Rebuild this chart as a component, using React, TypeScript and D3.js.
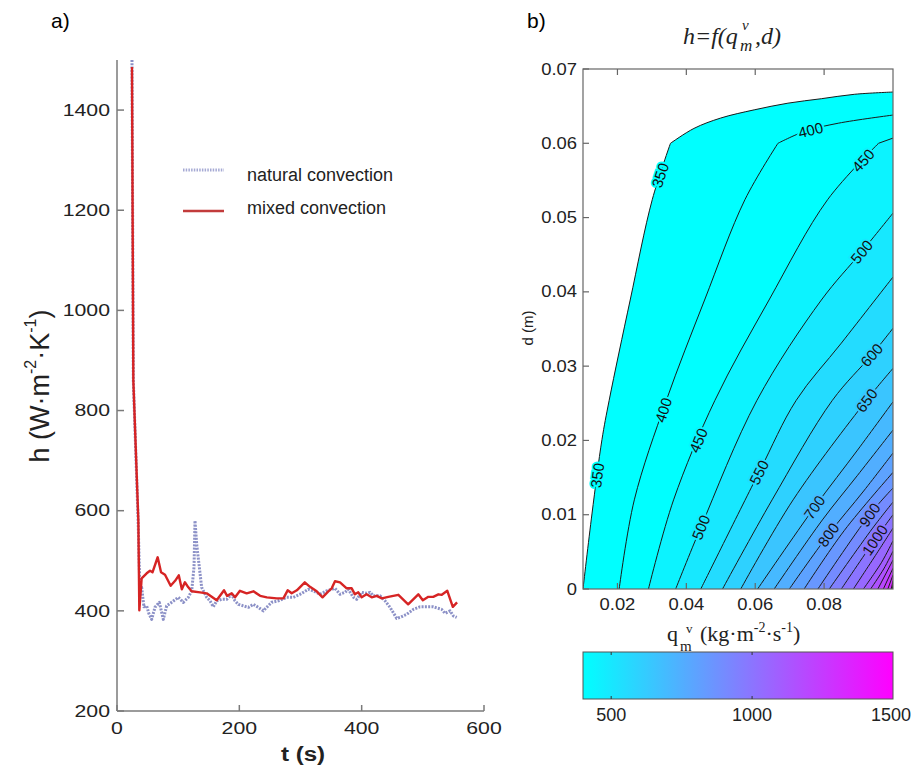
import React from "react";
import * as d3 from "d3";

// ---------- panel a) data ----------
const timeMixed = [24.5, 26.7, 34.9, 36.5, 40.3, 48.5, 54, 58, 66.5, 72, 78.5, 87.7, 95, 101, 106, 111, 116.6, 122, 135.7, 146.6, 163, 175, 180, 187.5, 193, 201, 212, 223, 234, 245, 261, 272, 279, 285.6, 294, 307, 315.5, 326.5, 336, 345.5, 351, 356.4, 364.6, 375.5, 383.7, 389, 394.5, 400, 408, 416.4, 424.6, 433, 443.6, 460, 476, 492.6, 500, 509, 517, 525.4, 531, 540, 549, 556];
const hMixed = [1486, 860, 580, 401, 465, 475, 480, 477, 507, 477, 472, 450, 460, 471, 443, 457, 447, 439, 437, 435, 421, 441, 430, 435, 427, 440, 435, 439, 430, 427, 425, 425, 441, 435, 441, 457, 448, 439, 427, 439, 445, 459, 457, 445, 445, 433, 437, 427, 433, 427, 430, 425, 428, 432, 413, 433, 421, 428, 428, 433, 432, 440, 408, 417];
const timeNatural = [24.5, 26.7, 34.5, 37.5, 40.3, 44, 48.5, 52, 56.7, 62.1, 69.2, 75.7, 81.2, 89.4, 100.3, 108.4, 116.6, 122.1, 125.9, 127.5, 130.3, 134.6, 138.4, 146.6, 152, 157.5, 163, 171.1, 179.3, 187.5, 192.9, 198.4, 206.5, 214.7, 222.9, 231.1, 239.2, 244.7, 252.9, 263.8, 277.4, 288.3, 299.2, 312.8, 321, 331.9, 342.8, 351, 356.4, 364.6, 372.8, 378.2, 386.4, 391.9, 400, 408.2, 413.7, 419.1, 430, 438.2, 446.4, 457.3, 462.7, 473.6, 484.5, 495.4, 506.3, 517.2, 530.8, 536.3, 544.5, 549.9, 555.4];
const hNatural = [1500, 860, 580, 440, 447, 408, 410, 395, 383, 407, 417, 383, 410, 417, 427, 417, 427, 440, 487, 580, 533, 487, 447, 427, 420, 408, 420, 423, 423, 433, 420, 413, 410, 407, 413, 407, 400, 407, 417, 420, 427, 427, 433, 443, 440, 433, 440, 443, 445, 433, 437, 443, 427, 423, 437, 435, 437, 430, 430, 420, 407, 385, 387, 393, 403, 408, 408, 408, 403, 395, 400, 390, 387];
const leftXTicks = [0, 200, 400, 600];
const leftYTicks = [200, 400, 600, 800, 1000, 1200, 1400];
const legendLabels = ["natural convection", "mixed convection"];

// ---------- panel b) data ----------
const contourLevels = [350, 400, 450, 500, 550, 600, 650, 700, 750, 800, 850, 900, 950, 1000, 1050, 1100, 1150, 1200, 1250, 1300, 1350, 1400];
const contourQ = [
  [0.0100, 0.0126, 0.0155, 0.0176, 0.0237, 0.0301, 0.0354, 0.0422, 0.0500, 0.0597, 0.0695, 0.0792, 0.0889, 0.1000],
  [0.0205, 0.0249, 0.0342, 0.0453, 0.0570, 0.0666, 0.0743, 0.0841, 0.1000],
  [0.0290, 0.0363, 0.0483, 0.0640, 0.0810, 0.0958, 0.1000],
  [0.0369, 0.0442, 0.0605, 0.0792, 0.0909, 0.1000],
  [0.0442, 0.0611, 0.0719, 0.0850, 0.1000],
  [0.0505, 0.0649, 0.0824, 0.0938, 0.1000],
  [0.0558, 0.0710, 0.0923, 0.1000],
  [0.0607, 0.0772, 0.0897, 0.1000],
  [0.0655, 0.0795, 0.0897, 0.1000],
  [0.0699, 0.0812, 0.0915, 0.1000],
  [0.0742, 0.0859, 0.1000],
  [0.0782, 0.0932, 0.1000],
  [0.0815, 0.0941, 0.1000],
  [0.0850, 0.0947, 0.1000],
  [0.0885, 0.0953, 0.1000],
  [0.0914, 0.0967, 0.1000],
  [0.0935, 0.0973, 0.1000],
  [0.0956, 0.1000],
  [0.0972, 0.1000],
  [0.0985, 0.1000],
  [0.0995, 0.1000],
  [0.0998, 0.1000],
];
const contourD = [
  [0, 0.0101, 0.0201, 0.0254, 0.0389, 0.0524, 0.0600, 0.0620, 0.0634, 0.0645, 0.0654, 0.0660, 0.0666, 0.0669],
  [0, 0.0120, 0.0254, 0.0389, 0.0524, 0.0600, 0.0616, 0.0627, 0.0638],
  [0, 0.0120, 0.0254, 0.0389, 0.0524, 0.0600, 0.0607],
  [0, 0.0083, 0.0254, 0.0389, 0.0454, 0.0506],
  [0, 0.0157, 0.0254, 0.0331, 0.0420],
  [0, 0.0120, 0.0254, 0.0315, 0.0351],
  [0, 0.0120, 0.0254, 0.0297],
  [0, 0.0110, 0.0187, 0.0252],
  [0, 0.0093, 0.0153, 0.0214],
  [0, 0.0073, 0.0132, 0.0183],
  [0, 0.0079, 0.0157],
  [0, 0.0100, 0.0136],
  [0, 0.0082, 0.0117],
  [0, 0.0066, 0.0100],
  [0, 0.0048, 0.0082],
  [0, 0.0036, 0.0065],
  [0, 0.0027, 0.0051],
  [0, 0.0039],
  [0, 0.0028],
  [0, 0.0019],
  [0, 0.0011],
  [0, 0.0006],
];
const contourKink = [6, 5, 5, -1, -1, -1, -1, -1, -1, -1, -1, -1, -1, -1, -1, -1, -1, -1, -1, -1, -1, -1];
const labelLevels = [350, 350, 400, 400, 450, 450, 500, 500, 550, 600, 650, 700, 800, 900, 1000];
const labelD = [0.0153, 0.0557, 0.0241, 0.0618, 0.0200, 0.0577, 0.0083, 0.0454, 0.0157, 0.0315, 0.0254, 0.0110, 0.0073, 0.0100, 0.0066];
const rightXTicks = [0.02, 0.04, 0.06, 0.08];
const rightYTicks = [0, 0.01, 0.02, 0.03, 0.04, 0.05, 0.06, 0.07];
const colorbarTicks = [500, 1000, 1500];
const colorDomain = [400, 1500];

const SANS = "'Liberation Sans', Arial, Helvetica, sans-serif";
const SERIF = "'Liberation Serif', 'Times New Roman', serif";

export default function App() {
  // panel a scales
  const xL = d3.scaleLinear().domain([0, 600]).range([117, 484]);
  const yL = d3.scaleLinear().domain([200, 1500]).range([711, 60]);
  const mk = (ts: number[], hs: number[]) =>
    d3
      .line<[number, number]>()
      .x((p) => xL(p[0]))
      .y((p) => yL(p[1]))(ts.map((t, i) => [t, hs[i]] as [number, number])) || "";
  const mixedPath = mk(timeMixed, hMixed);
  const naturalPath = mk(timeNatural, hNatural);

  // panel b scales
  const xR = d3.scaleLinear().domain([0.01, 0.1]).range([583, 893]);
  const yR = d3.scaleLinear().domain([0, 0.07]).range([589, 69]);
  const cb = d3.scaleLinear().domain(colorDomain).range([583, 893]);
  const interp = d3.interpolateRgb("#00ffff", "#ff00ff");
  const colorOf = (v: number) =>
    interp(Math.max(0, Math.min(1, (v - colorDomain[0]) / (colorDomain[1] - colorDomain[0]))));

  const cLine = d3
    .line<[number, number]>()
    .x((p) => xR(p[0]))
    .y((p) => yR(p[1]))
    .curve(d3.curveCatmullRom.alpha(0.5));

  const contourPath = (i: number) => {
    const pts = contourQ[i].map((q, j) => [q, contourD[i][j]] as [number, number]);
    const k = contourKink[i];
    if (k > 0) {
      const a = cLine(pts.slice(0, k + 1)) || "";
      const b = (cLine(pts.slice(k)) || "").replace(/^M/, "L");
      return a + b;
    }
    return cLine(pts) || "";
  };

  const labels = labelLevels.map((lv, n) => {
    const i = contourLevels.indexOf(lv);
    const qs = contourQ[i];
    const ds = contourD[i];
    const dd = labelD[n];
    let j = 0;
    while (j < ds.length - 2 && ds[j + 1] < dd) j++;
    const f = (dd - ds[j]) / (ds[j + 1] - ds[j]);
    const q = qs[j] + f * (qs[j + 1] - qs[j]);
    const dx = xR(qs[j + 1]) - xR(qs[j]);
    const dy = yR(ds[j + 1]) - yR(ds[j]);
    let ang = (Math.atan2(dy, dx) * 180) / Math.PI;
    if (ang < -90) ang += 180;
    if (ang > 90) ang -= 180;
    return { lv, x: xR(q), y: yR(dd), ang, color: colorOf(lv) };
  });

  const axisGrey = "#7a7a7a";

  return (
    <svg
      width={916}
      height={766}
      style={{ position: "absolute", left: 0, top: 0, background: "#fff" }}
      fontFamily={SANS}
    >
      <defs>
        <linearGradient id="cbar" x1="0" x2="1" y1="0" y2="0">
          <stop offset="0%" stopColor={colorOf(400)} />
          <stop offset="50%" stopColor={colorOf(950)} />
          <stop offset="100%" stopColor={colorOf(1500)} />
        </linearGradient>
        <clipPath id="clipL">
          <rect x={117} y={60} width={367} height={651} />
        </clipPath>
        <clipPath id="clipR">
          <rect x={583} y={69} width={310} height={520} />
        </clipPath>
      </defs>

      {/* ---------------- panel a ---------------- */}
      <text x={51} y={28} fontSize={21}>a)</text>

      {/* axes */}
      <line x1={117} x2={117} y1={60} y2={711} stroke={axisGrey} strokeWidth={1.5} />
      <line x1={117} x2={484} y1={711} y2={711} stroke={axisGrey} strokeWidth={1.5} />
      {leftYTicks.map((t) => (
        <g key={"ly" + t}>
          <line x1={117} x2={124} y1={yL(t)} y2={yL(t)} stroke={axisGrey} strokeWidth={1.5} />
          <text
            transform={`translate(110,${yL(t)}) scale(1.25,1)`}
            textAnchor="end"
            dominantBaseline="central"
            fontSize={17}
            fill="#222"
          >
            {t}
          </text>
        </g>
      ))}
      {leftXTicks.map((t) => (
        <g key={"lx" + t}>
          <line x1={xL(t)} x2={xL(t)} y1={711} y2={705} stroke={axisGrey} strokeWidth={1.5} />
          <text
            transform={`translate(${xL(t)},728) scale(1.25,1)`}
            textAnchor="middle"
            dominantBaseline="central"
            fontSize={17}
            fill="#222"
          >
            {t}
          </text>
        </g>
      ))}
      <text
        transform="translate(303,754) scale(1.15,1)"
        textAnchor="middle"
        dominantBaseline="central"
        fontSize={21}
        fontWeight="bold"
        fill="#222"
      >
        t (s)
      </text>
      <text
        transform="translate(40,386) rotate(-90)"
        textAnchor="middle"
        dominantBaseline="central"
        fontSize={27}
        fill="#222"
      >
        h (W·m<tspan dy={-10} fontSize={16}>-2</tspan>
        <tspan dy={10}>·K</tspan>
        <tspan dy={-10} fontSize={16}>-1</tspan>
        <tspan dy={10}>)</tspan>
      </text>

      {/* data lines */}
      <g clipPath="url(#clipL)">
        <path d={naturalPath} fill="none" stroke="#8c91c7" strokeWidth={3} strokeDasharray="2 1.3" strokeLinejoin="round" />
        <path d={mixedPath} fill="none" stroke="#d62424" strokeWidth={2.4} strokeLinejoin="round" />
      </g>

      {/* legend */}
      <line x1={183} x2={224} y1={170} y2={170} stroke="#a6aad4" strokeWidth={3} strokeDasharray="1.5 1.2" />
      <line x1={183} x2={224} y1={211} y2={211} stroke="#c23b3b" strokeWidth={2.5} />
      <text x={247} y={181} fontSize={18} fill="#222">{legendLabels[0]}</text>
      <text x={247} y={214} fontSize={18} fill="#222">{legendLabels[1]}</text>

      {/* ---------------- panel b ---------------- */}
      <text x={527} y={28} fontSize={21}>b)</text>

      {/* title */}
      <g fontFamily={SERIF} fontStyle="italic" fill="#222">
        <text x={683} y={44} fontSize={24}>h=f(q</text>
        <text x={742} y={30} fontSize={15}>v</text>
        <text x={740} y={51} fontSize={17}>m</text>
        <text x={755} y={44} fontSize={24}>,d)</text>
      </g>

      {/* filled bands */}
      <g clipPath="url(#clipR)">
        {contourLevels.map((lv, i) => (
          <path
            key={"f" + lv}
            d={contourPath(i) + `L${xR(0.1)},${yR(0)}L${xR(contourQ[i][0])},${yR(0)}Z`}
            fill={colorOf(lv)}
            stroke="none"
          />
        ))}
        {contourLevels.map((lv, i) => (
          <path key={"c" + lv} d={contourPath(i)} fill="none" stroke="#1a1a1a" strokeWidth={1} />
        ))}
        {labels.map((l, n) => (
          <text
            key={"lab" + n}
            transform={`translate(${l.x},${l.y}) rotate(${l.ang})`}
            textAnchor="middle"
            dominantBaseline="central"
            fontSize={15}
            fill="#111"
            stroke={l.color}
            strokeWidth={4}
            paintOrder="stroke"
          >
            {l.lv}
          </text>
        ))}
      </g>

      {/* frame and ticks */}
      <rect x={583} y={69} width={310} height={520} fill="none" stroke="#666" strokeWidth={1.2} />
      {rightXTicks.map((t) => (
        <g key={"rx" + t}>
          <line x1={xR(t)} x2={xR(t)} y1={69} y2={75} stroke="#666" strokeWidth={1.2} />
          <line x1={xR(t)} x2={xR(t)} y1={589} y2={583} stroke="#666" strokeWidth={1.2} />
          <text
            transform={`translate(${xR(t)},604) scale(1.15,1)`}
            textAnchor="middle"
            dominantBaseline="central"
            fontSize={16}
            fill="#222"
          >
            {t.toFixed(2)}
          </text>
        </g>
      ))}
      {rightYTicks.map((t) => (
        <g key={"ry" + t}>
          <line x1={583} x2={589} y1={yR(t)} y2={yR(t)} stroke="#666" strokeWidth={1.2} />
          <text
            transform={`translate(577,${yR(t)}) scale(1.15,1)`}
            textAnchor="end"
            dominantBaseline="central"
            fontSize={16}
            fill="#222"
          >
            {t === 0 ? "0" : t.toFixed(2)}
          </text>
        </g>
      ))}
      <text
        transform="translate(527,328) rotate(-90)"
        textAnchor="middle"
        dominantBaseline="central"
        fontSize={15}
        fill="#222"
      >
        d (m)
      </text>

      {/* x label */}
      <g fontFamily={SERIF} fill="#222">
        <text x={667} y={641} fontSize={22}>q</text>
        <text x={686} y={633} fontSize={13}>v</text>
        <text x={680} y={651} fontSize={15}>m</text>
        <text x={700} y={641} fontSize={22}>
          (kg·m<tspan dy={-9} fontSize={14}>-2</tspan>
          <tspan dy={9}>·s</tspan>
          <tspan dy={-9} fontSize={14}>-1</tspan>
          <tspan dy={9}>)</tspan>
        </text>
      </g>

      {/* colorbar */}
      <rect x={583} y={652} width={310} height={47} fill="url(#cbar)" stroke="#555" strokeWidth={1} />
      {colorbarTicks.map((t) => (
        <g key={"cb" + t}>
          {t < 1500 && (
            <>
              <line x1={cb(t)} x2={cb(t)} y1={652} y2={655} stroke="#333" strokeWidth={1} />
              <line x1={cb(t)} x2={cb(t)} y1={699} y2={696} stroke="#333" strokeWidth={1} />
            </>
          )}
          <text
            x={t === 1500 ? cb(t) - 2 : cb(t)}
            y={715}
            textAnchor="middle"
            dominantBaseline="central"
            fontSize={18}
            fill="#222"
          >
            {t}
          </text>
        </g>
      ))}
    </svg>
  );
}
